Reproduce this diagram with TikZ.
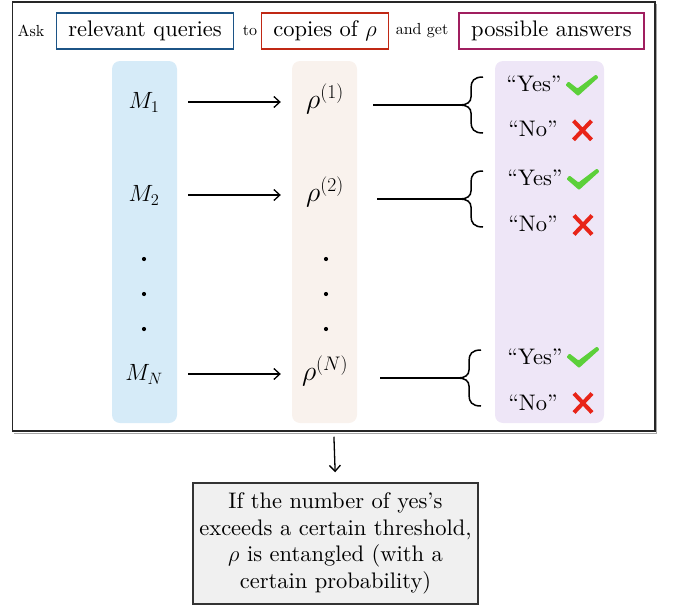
\RequirePackage{fix-cm}
\documentclass[tikz,border=0pt]{standalone}
\usepackage{fontspec}
\setmainfont{lmroman10-regular.otf}[ItalicFont=lmroman10-italic.otf, BoldFont=lmroman10-bold.otf]
\usetikzlibrary{arrows.meta}
\definecolor{qblue}{RGB}{28,84,134}
\definecolor{cred}{RGB}{192,40,20}
\definecolor{amag}{RGB}{160,30,95}
\definecolor{colblue}{RGB}{214,235,248}
\definecolor{colbeige}{RGB}{249,242,237}
\definecolor{collav}{RGB}{238,230,247}
\definecolor{okgreen}{RGB}{92,208,58}
\definecolor{nored}{RGB}{232,36,24}
\definecolor{resfill}{RGB}{240,240,240}
\begin{document}
\begin{tikzpicture}[x=1pt,y=-1pt,
  big/.style={font=\fontsize{22.5}{26.5}\selectfont},
  small/.style={font=\fontsize{16}{19}\selectfont},
  hbox/.style={draw, line width=1.6pt, big, minimum height=36pt, inner xsep=12pt, inner ysep=0pt},
  mathnode/.style={font=\fontsize{23.5}{27}\selectfont, inner sep=0pt, minimum width=88pt, text height=18pt, text depth=5pt},
  rhonode/.style={mathnode, font=\fontsize{28}{31}\selectfont},
  answer/.style={big, inner sep=0pt},
  arr/.style={-{Straight Barb[length=6pt,width=11pt,line width=1.3pt]}, line width=1.3pt},
  ln/.style={line width=1.4pt},
  pics/checkmk/.style={code={\fill[okgreen, rounded corners=1pt] (-16.5,-1) -- (-13.5,-4.5) -- (-4.5,2.5) -- (14,-11.5) -- (16.5,-8.5) -- (-4,10) -- cycle;}},
  pics/crossmk/.style={code={\draw[nored, line width=4pt] (-9,-9.5) -- (9,9.5) (-9,9.5) -- (9,-9.5);}},
  pics/bracemk/.style={code={\draw[line width=1.5pt] (23,-28) .. controls (14,-28) and (11,-24) .. (11,-17) -- (11,-8) .. controls (11,-3) and (7,0) .. (0,0) .. controls (7,0) and (11,3) .. (11,8) -- (11,17) .. controls (11,24) and (14,28) .. (23,28);}}
]
\useasboundingbox (0,0) rectangle (675,608);

% outer frame
\draw[black!35, line width=1pt] (14,433.2) -- (656.8,433.2) -- (656.8,4);
\node[draw=black!85, line width=1.5pt, minimum width=642.5pt, minimum height=429pt, inner sep=0pt] (frame) at (333.75,216.5) {};

% header
\node[small] (ask) at (31,31) {Ask};
\node[hbox, draw=qblue] (rq) at (145,31) {relevant queries};
\node[small] (to) at (250,31) {to};
\node[hbox, draw=cred] (cp) at (325,31) {copies of $\rho$};
\node[small] (ag) at (422,31) {and get};
\node[hbox, draw=amag] (pa) at (551.5,31) {possible answers};

% columns
\fill[colblue, rounded corners=8pt] (112,61) rectangle (177,423);
\fill[colbeige, rounded corners=8pt] (292,61) rectangle (357,423);
\fill[collav, rounded corners=8pt] (495,61) rectangle (604,423);

% left column
\node[mathnode] (M1) at (144,102) {$M_1$};
\node[mathnode] (M2) at (144,195) {$M_2$};
\node[mathnode] (MN) at (144,374) {$M_N$};
\fill (144,259) circle (2.1) (144,294) circle (2.1) (144,329) circle (2.1);

% middle column
\node[rhonode] (r1) at (325,102) {$\rho^{(1)}$};
\node[rhonode] (r2) at (325,195) {$\rho^{(2)}$};
\node[rhonode] (rN) at (325,374) {$\rho^{(N)}$};
\fill (326,259) circle (2.1) (326,294) circle (2.1) (326,329) circle (2.1);

\draw[arr] (M1) -- (r1);
\draw[arr] (M2) -- (r2);
\draw[arr] (MN) -- (rN);

% braces
\coordinate (b1) at (460,105);
\coordinate (b2) at (460,199);
\coordinate (bN) at (458,378);
\draw[ln] ([xshift=4pt]r1.east |- b1) -- (b1);
\draw[ln] ([xshift=8pt]r2.east |- b2) -- (b2);
\draw[ln] ([xshift=11pt]rN.east |- bN) -- (bN);
\pic at (b1) {bracemk};
\pic at (b2) {bracemk};
\pic at (bN) {bracemk};

% answers
\node[answer] (y1) at (534,84) {``Yes''};
\node[answer] (n1) at (533,129) {``No''};
\node[answer] (y2) at (535,178) {``Yes''};
\node[answer] (n2) at (533,224) {``No''};
\node[answer] (yN) at (535,357) {``Yes''};
\node[answer] (nN) at (533,403) {``No''};
\pic at (582,86) {checkmk};
\pic at (582.5,130.3) {crossmk};
\pic at (583,180) {checkmk};
\pic at (583,225) {crossmk};
\pic at (583,358) {checkmk};
\pic at (583,403) {crossmk};

% result
\node[draw=black!80, fill=resfill, line width=1.5pt, minimum width=285pt, minimum height=121pt, inner sep=0pt, align=center, big] (res) at (335.5,543.5)
  {If the number of yes's\\exceeds a certain threshold,\\$\rho$ is entangled (with a\\certain probability)};
\draw[arr, shorten <=5pt, shorten >=10pt] (frame.south) -- (res.north);
\end{tikzpicture}
\end{document}
